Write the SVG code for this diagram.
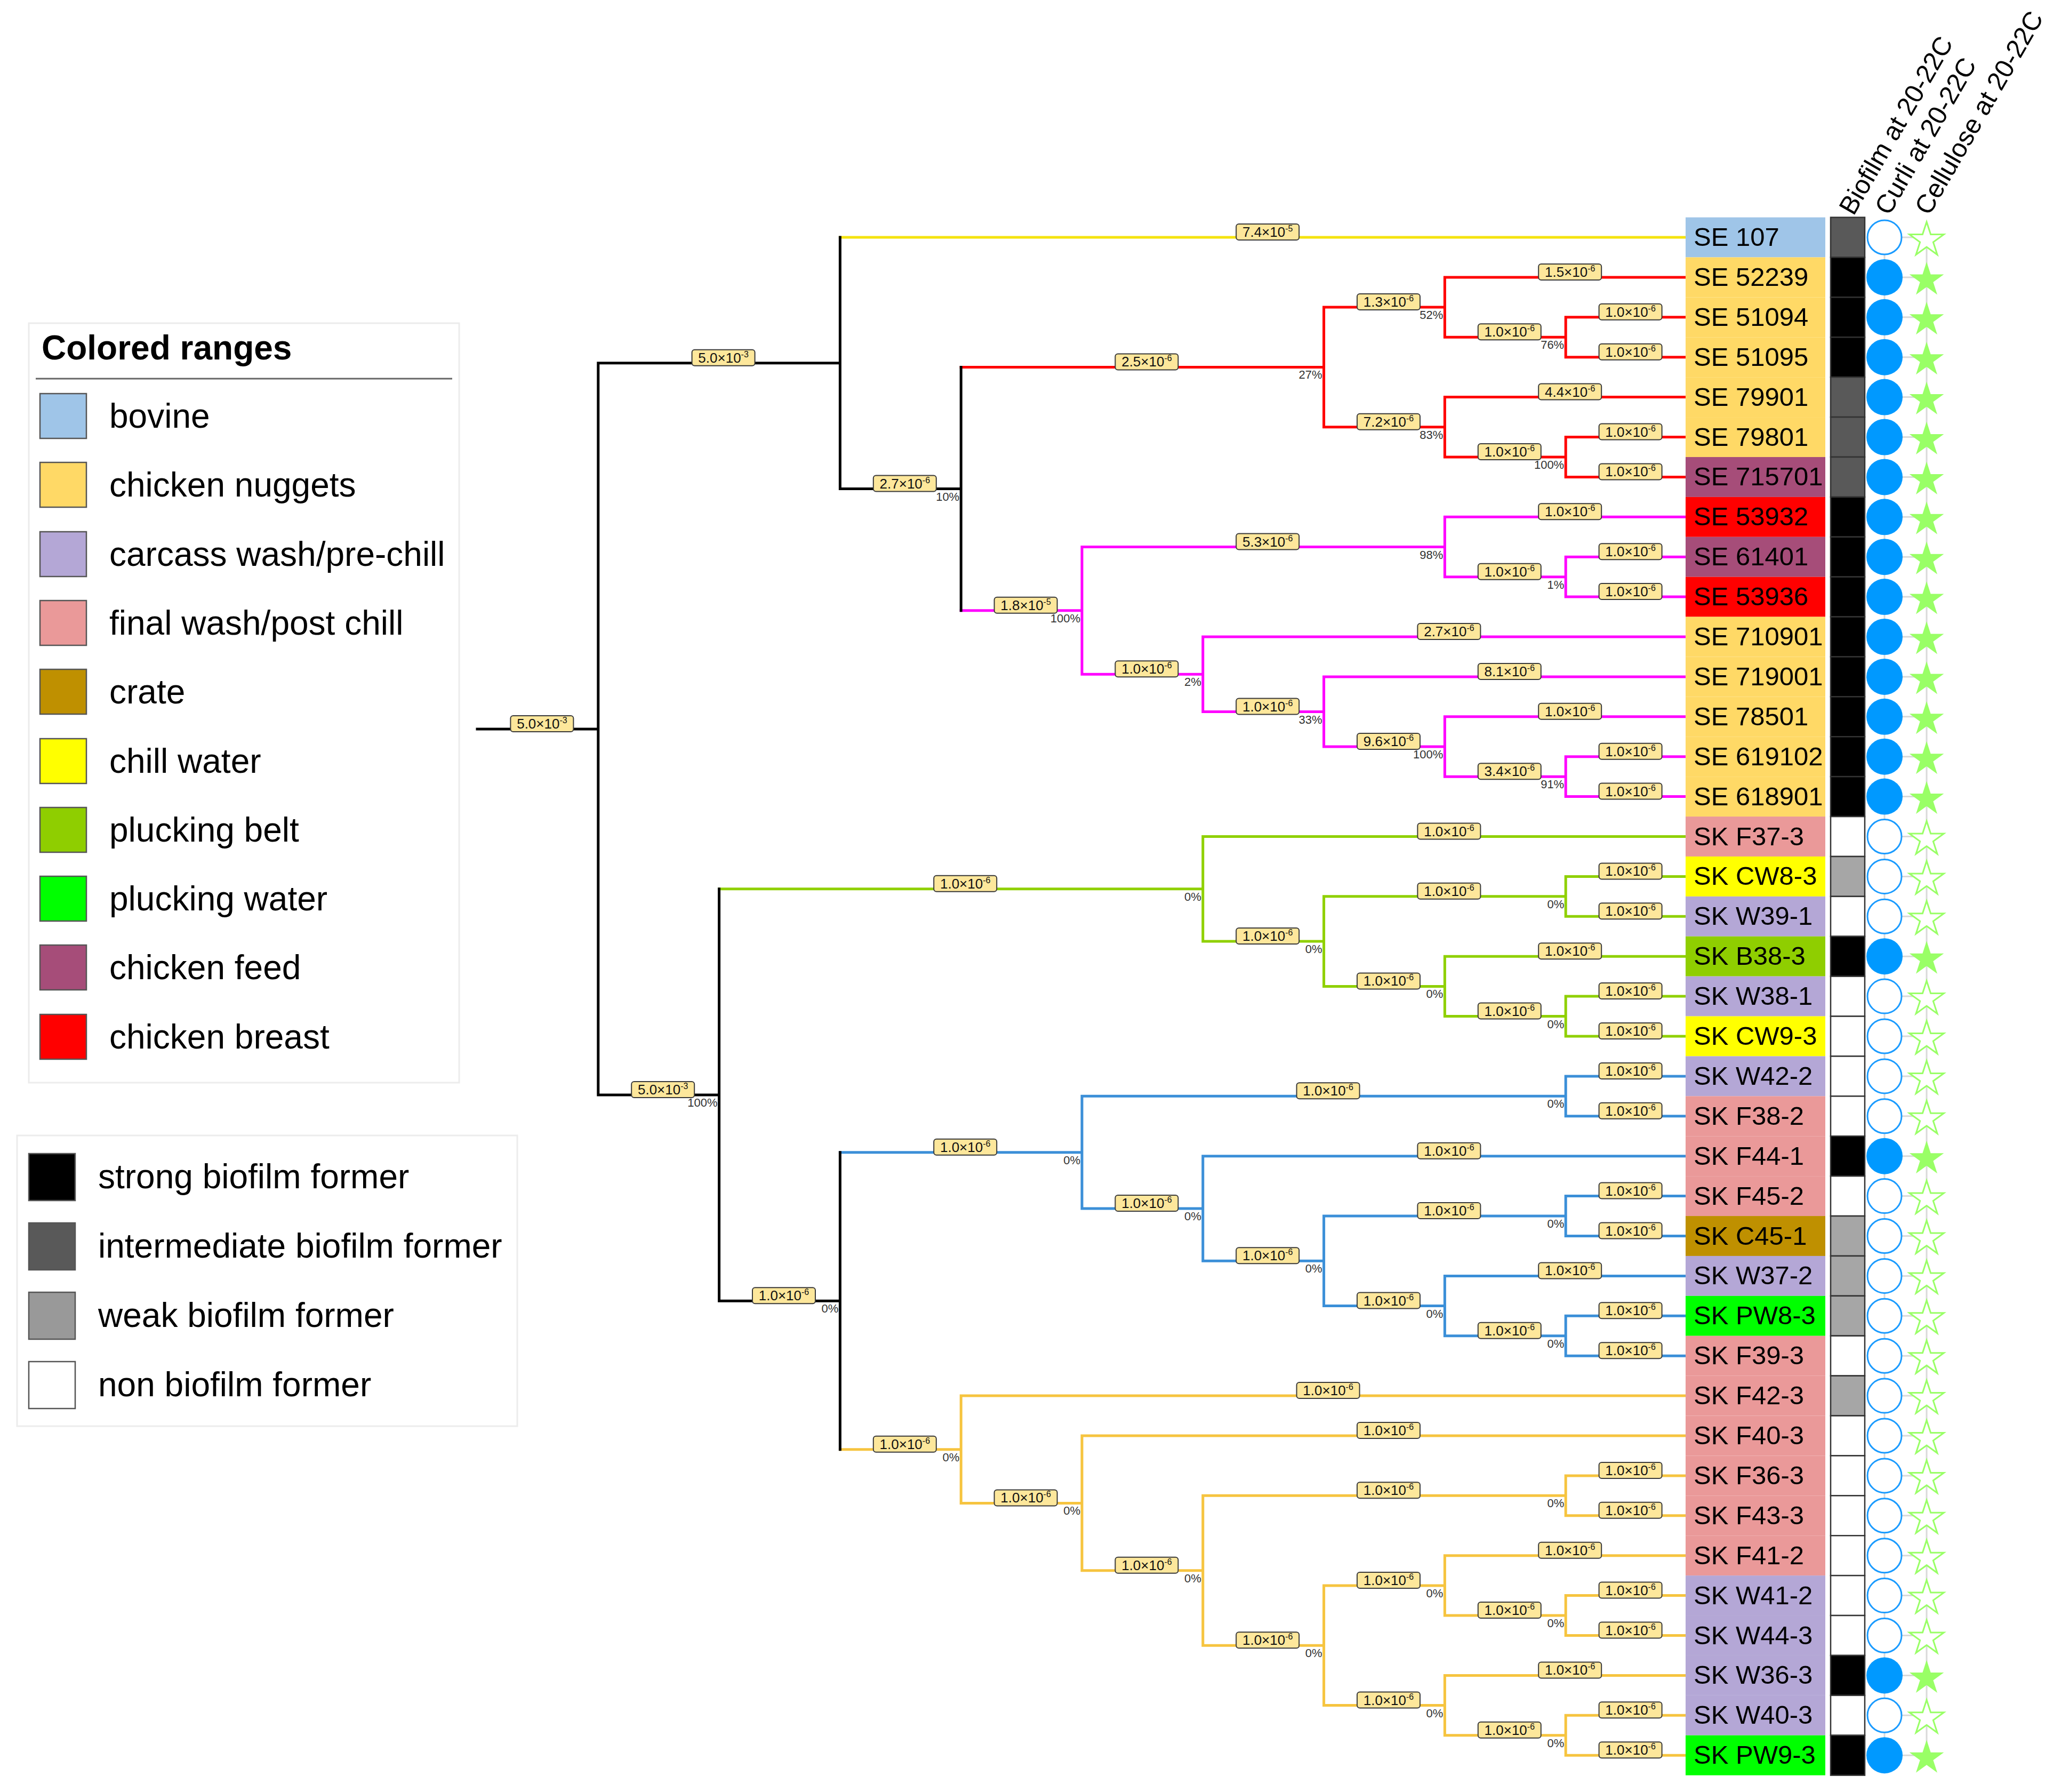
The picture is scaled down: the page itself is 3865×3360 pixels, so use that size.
<svg xmlns="http://www.w3.org/2000/svg" xmlns:xlink="http://www.w3.org/1999/xlink" width="3865" height="3360" viewBox="0 0 3865 3360">
<style>
text{font-family:"Liberation Sans",Arial,sans-serif}
.br{fill:none;stroke-width:5;stroke-linecap:square}
.k{stroke:#000}.y{stroke:#f5e30f}.r{stroke:#ff0000}.m{stroke:#ff00ff}.g{stroke:#8fd000}.b{stroke:#3b8fd8}.o{stroke:#f6c43f}
.bl rect{fill:#fde79b;stroke:#3a3a3a;stroke-width:2}
.bl text{font-size:26px;text-anchor:middle;fill:#111}
.bl tspan{font-size:16px}
.pct{font-size:22px;text-anchor:end;fill:#333}
.lbl{font-size:49px;fill:#000}
.cell{stroke:#333;stroke-width:2.5}
.cf{fill:#0099ff}.co{fill:#fff;stroke:#1a9bff;stroke-width:3}
.sf{fill:#99ff66}.so{fill:#fff;stroke:#99ff66;stroke-width:3}
.bov{fill:#9fc5e8}.nug{fill:#ffd966}.car{fill:#b4a7d6}.fin{fill:#ea9999}.cra{fill:#bf9000}.chw{fill:#ffff00}.pbe{fill:#8fce00}.pwa{fill:#00ff00}.fee{fill:#a64d79}.bre{fill:#ff0000}
.bS{fill:#000}.bI{fill:#595959}.bW{fill:#a6a6a6}.bN{fill:#fff}
.sw{stroke:#555;stroke-width:2.5}
.leg{font-size:64px;fill:#000}
.hdr{font-size:49px;fill:#000}
.grid{fill:none;stroke:#d9d9d9;stroke-width:3}
</style>
<defs>
<polygon id="star" points="0,-34 7.64,-10.52 32.34,-10.51 12.36,4.02 19.98,27.51 0,13 -19.98,27.51 -12.36,4.02 -32.34,-10.51 -7.64,-10.52"/>
</defs>
<rect x="0" y="0" width="3865" height="3360" fill="#fff"/>

<g id="legend-ranges">
<rect x="54" y="606" width="807" height="1424" fill="#fff" stroke="#ececec" stroke-width="3"/>
<text x="78" y="674" class="leg" font-weight="bold">Colored ranges</text>
<line x1="67" y1="710" x2="848" y2="710" stroke="#666" stroke-width="3"/>
<rect class="sw bov" x="75" y="738" width="87" height="84"/><text class="leg" x="205" y="802">bovine</text>
<rect class="sw nug" x="75" y="867" width="87" height="84"/><text class="leg" x="205" y="931">chicken nuggets</text>
<rect class="sw car" x="75" y="997" width="87" height="84"/><text class="leg" x="205" y="1061">carcass wash/pre-chill</text>
<rect class="sw fin" x="75" y="1126" width="87" height="84"/><text class="leg" x="205" y="1190">final wash/post chill</text>
<rect class="sw cra" x="75" y="1255" width="87" height="84"/><text class="leg" x="205" y="1319">crate</text>
<rect class="sw chw" x="75" y="1385" width="87" height="84"/><text class="leg" x="205" y="1449">chill water</text>
<rect class="sw pbe" x="75" y="1514" width="87" height="84"/><text class="leg" x="205" y="1578">plucking belt</text>
<rect class="sw pwa" x="75" y="1643" width="87" height="84"/><text class="leg" x="205" y="1707">plucking water</text>
<rect class="sw fee" x="75" y="1772" width="87" height="84"/><text class="leg" x="205" y="1836">chicken feed</text>
<rect class="sw bre" x="75" y="1902" width="87" height="84"/><text class="leg" x="205" y="1966">chicken breast</text>
</g>

<g id="legend-biofilm">
<rect x="32" y="2129" width="938" height="545" fill="#fff" stroke="#ececec" stroke-width="3"/>
<rect class="sw bS" x="54" y="2163" width="87" height="88"/><text class="leg" x="184" y="2228">strong biofilm former</text>
<rect class="sw bI" x="54" y="2293" width="87" height="88"/><text class="leg" x="184" y="2358">intermediate biofilm former</text>
<rect class="sw" fill="#999" x="54" y="2423" width="87" height="88"/><text class="leg" x="184" y="2488">weak biofilm former</text>
<rect class="sw bN" x="54" y="2553" width="87" height="88"/><text class="leg" x="184" y="2618">non biofilm former</text>
</g>

<g id="headers">
<text class="hdr" transform="translate(3476,406) rotate(-60)">Biofilm at 20-22C</text>
<text class="hdr" transform="translate(3543,406) rotate(-60)">Curli at 20-22C</text>
<text class="hdr" transform="translate(3618,406) rotate(-60)">Cellulose at 20-22C</text>
</g>

<g id="connectors">
<path class="br y" d="M1575.4 445H3163"/>
<path class="br r" d="M1802.2 688.4H2482.6M2482.6 576.1V800.8M2482.6 576.1H2709.4M2482.6 800.8H2709.4M2709.4 519.9V632.25M2709.4 519.9H3163M2709.4 632.25H2936.2M2936.2 594.8V669.7M2936.2 594.8H3163M2936.2 669.7H3163M2709.4 744.6V856.95M2709.4 744.6H3163M2709.4 856.95H2936.2M2936.2 819.5V894.4M2936.2 819.5H3163M2936.2 894.4H3163"/>
<path class="br m" d="M1802.2 1144.8H2029M2029 1025.5V1264.2M2029 1025.5H2709.4M2029 1264.2H2255.8M2709.4 969.3V1081.65M2709.4 969.3H3163M2709.4 1081.65H2936.2M2936.2 1044.2V1119.1M2936.2 1044.2H3163M2936.2 1119.1H3163M2255.8 1194V1334.5M2255.8 1194H3163M2255.8 1334.5H2482.6M2482.6 1268.9V1400M2482.6 1268.9H3163M2482.6 1400H2709.4M2709.4 1343.8V1456.15M2709.4 1343.8H3163M2709.4 1456.15H2936.2M2936.2 1418.7V1493.6M2936.2 1418.7H3163M2936.2 1493.6H3163"/>
<path class="br g" d="M1348.6 1666.8H2255.8M2255.8 1568.5V1765.1M2255.8 1568.5H3163M2255.8 1765.1H2482.6M2482.6 1680.85V1849.4M2482.6 1680.85H2936.2M2936.2 1643.4V1718.3M2936.2 1643.4H3163M2936.2 1718.3H3163M2482.6 1849.4H2709.4M2709.4 1793.2V1905.55M2709.4 1793.2H3163M2709.4 1905.55H2936.2M2936.2 1868.1V1943M2936.2 1868.1H3163M2936.2 1943H3163"/>
<path class="br b" d="M1575.4 2160.7H2029M2029 2055.35V2266M2029 2055.35H2936.2M2936.2 2017.9V2092.8M2936.2 2017.9H3163M2936.2 2092.8H3163M2029 2266H2255.8M2255.8 2167.7V2364.3M2255.8 2167.7H3163M2255.8 2364.3H2482.6M2482.6 2280.05V2448.6M2482.6 2280.05H2936.2M2936.2 2242.6V2317.5M2936.2 2242.6H3163M2936.2 2317.5H3163M2482.6 2448.6H2709.4M2709.4 2392.4V2504.75M2709.4 2392.4H3163M2709.4 2504.75H2936.2M2936.2 2467.3V2542.2M2936.2 2467.3H3163M2936.2 2542.2H3163"/>
<path class="br o" d="M1575.4 2717.7H1802.2M1802.2 2617.1V2818.4M1802.2 2617.1H3163M1802.2 2818.4H2029M2029 2692V2944.8M2029 2692H3163M2029 2944.8H2255.8M2255.8 2804.35V3085.2M2255.8 2804.35H2936.2M2936.2 2766.9V2841.8M2936.2 2766.9H3163M2936.2 2841.8H3163M2255.8 3085.2H2482.6M2482.6 2972.9V3197.6M2482.6 2972.9H2709.4M2709.4 2916.7V3029.05M2709.4 2916.7H3163M2709.4 3029.05H2936.2M2936.2 2991.6V3066.5M2936.2 2991.6H3163M2936.2 3066.5H3163M2482.6 3197.6H2709.4M2709.4 3141.4V3253.75M2709.4 3141.4H3163M2709.4 3253.75H2936.2M2936.2 3216.3V3291.2M2936.2 3216.3H3163M2936.2 3291.2H3163"/>
<path class="br k" d="M895 1366.9H1121.8M1121.8 680.8V2053M1121.8 680.8H1575.4M1121.8 2053H1348.6M1575.4 445V916.6M1575.4 916.6H1802.2M1802.2 688.4V1144.8M1348.6 1666.8V2439.2M1348.6 2439.2H1575.4M1575.4 2160.7V2717.7"/>
</g>

<g id="branch-lengths" class="bl">
<g transform="translate(1016.4,1366.9)"><rect x="-59" y="-25" width="118" height="30" rx="5"/><text y="-1">5.0×10<tspan dy="-10">-3</tspan></text></g>
<g transform="translate(1356.6,680.8)"><rect x="-59" y="-25" width="118" height="30" rx="5"/><text y="-1">5.0×10<tspan dy="-10">-3</tspan></text></g>
<g transform="translate(1243.2,2053)"><rect x="-59" y="-25" width="118" height="30" rx="5"/><text y="-1">5.0×10<tspan dy="-10">-3</tspan></text></g>
<g transform="translate(2377.2,445)"><rect x="-59" y="-25" width="118" height="30" rx="5"/><text y="-1">7.4×10<tspan dy="-10">-5</tspan></text></g>
<g transform="translate(1696.8,916.6)"><rect x="-59" y="-25" width="118" height="30" rx="5"/><text y="-1">2.7×10<tspan dy="-10">-6</tspan></text></g>
<g transform="translate(2150.4,688.4)"><rect x="-59" y="-25" width="118" height="30" rx="5"/><text y="-1">2.5×10<tspan dy="-10">-6</tspan></text></g>
<g transform="translate(2604,576.1)"><rect x="-59" y="-25" width="118" height="30" rx="5"/><text y="-1">1.3×10<tspan dy="-10">-6</tspan></text></g>
<g transform="translate(2944.2,519.9)"><rect x="-59" y="-25" width="118" height="30" rx="5"/><text y="-1">1.5×10<tspan dy="-10">-6</tspan></text></g>
<g transform="translate(2830.8,632.25)"><rect x="-59" y="-25" width="118" height="30" rx="5"/><text y="-1">1.0×10<tspan dy="-10">-6</tspan></text></g>
<g transform="translate(3057.6,594.8)"><rect x="-59" y="-25" width="118" height="30" rx="5"/><text y="-1">1.0×10<tspan dy="-10">-6</tspan></text></g>
<g transform="translate(3057.6,669.7)"><rect x="-59" y="-25" width="118" height="30" rx="5"/><text y="-1">1.0×10<tspan dy="-10">-6</tspan></text></g>
<g transform="translate(2604,800.8)"><rect x="-59" y="-25" width="118" height="30" rx="5"/><text y="-1">7.2×10<tspan dy="-10">-6</tspan></text></g>
<g transform="translate(2944.2,744.6)"><rect x="-59" y="-25" width="118" height="30" rx="5"/><text y="-1">4.4×10<tspan dy="-10">-6</tspan></text></g>
<g transform="translate(2830.8,856.95)"><rect x="-59" y="-25" width="118" height="30" rx="5"/><text y="-1">1.0×10<tspan dy="-10">-6</tspan></text></g>
<g transform="translate(3057.6,819.5)"><rect x="-59" y="-25" width="118" height="30" rx="5"/><text y="-1">1.0×10<tspan dy="-10">-6</tspan></text></g>
<g transform="translate(3057.6,894.4)"><rect x="-59" y="-25" width="118" height="30" rx="5"/><text y="-1">1.0×10<tspan dy="-10">-6</tspan></text></g>
<g transform="translate(1923.6,1144.8)"><rect x="-59" y="-25" width="118" height="30" rx="5"/><text y="-1">1.8×10<tspan dy="-10">-5</tspan></text></g>
<g transform="translate(2377.2,1025.5)"><rect x="-59" y="-25" width="118" height="30" rx="5"/><text y="-1">5.3×10<tspan dy="-10">-6</tspan></text></g>
<g transform="translate(2944.2,969.3)"><rect x="-59" y="-25" width="118" height="30" rx="5"/><text y="-1">1.0×10<tspan dy="-10">-6</tspan></text></g>
<g transform="translate(2830.8,1081.65)"><rect x="-59" y="-25" width="118" height="30" rx="5"/><text y="-1">1.0×10<tspan dy="-10">-6</tspan></text></g>
<g transform="translate(3057.6,1044.2)"><rect x="-59" y="-25" width="118" height="30" rx="5"/><text y="-1">1.0×10<tspan dy="-10">-6</tspan></text></g>
<g transform="translate(3057.6,1119.1)"><rect x="-59" y="-25" width="118" height="30" rx="5"/><text y="-1">1.0×10<tspan dy="-10">-6</tspan></text></g>
<g transform="translate(2150.4,1264.2)"><rect x="-59" y="-25" width="118" height="30" rx="5"/><text y="-1">1.0×10<tspan dy="-10">-6</tspan></text></g>
<g transform="translate(2717.4,1194)"><rect x="-59" y="-25" width="118" height="30" rx="5"/><text y="-1">2.7×10<tspan dy="-10">-6</tspan></text></g>
<g transform="translate(2377.2,1334.5)"><rect x="-59" y="-25" width="118" height="30" rx="5"/><text y="-1">1.0×10<tspan dy="-10">-6</tspan></text></g>
<g transform="translate(2830.8,1268.9)"><rect x="-59" y="-25" width="118" height="30" rx="5"/><text y="-1">8.1×10<tspan dy="-10">-6</tspan></text></g>
<g transform="translate(2604,1400)"><rect x="-59" y="-25" width="118" height="30" rx="5"/><text y="-1">9.6×10<tspan dy="-10">-6</tspan></text></g>
<g transform="translate(2944.2,1343.8)"><rect x="-59" y="-25" width="118" height="30" rx="5"/><text y="-1">1.0×10<tspan dy="-10">-6</tspan></text></g>
<g transform="translate(2830.8,1456.15)"><rect x="-59" y="-25" width="118" height="30" rx="5"/><text y="-1">3.4×10<tspan dy="-10">-6</tspan></text></g>
<g transform="translate(3057.6,1418.7)"><rect x="-59" y="-25" width="118" height="30" rx="5"/><text y="-1">1.0×10<tspan dy="-10">-6</tspan></text></g>
<g transform="translate(3057.6,1493.6)"><rect x="-59" y="-25" width="118" height="30" rx="5"/><text y="-1">1.0×10<tspan dy="-10">-6</tspan></text></g>
<g transform="translate(1810.2,1666.8)"><rect x="-59" y="-25" width="118" height="30" rx="5"/><text y="-1">1.0×10<tspan dy="-10">-6</tspan></text></g>
<g transform="translate(2717.4,1568.5)"><rect x="-59" y="-25" width="118" height="30" rx="5"/><text y="-1">1.0×10<tspan dy="-10">-6</tspan></text></g>
<g transform="translate(2377.2,1765.1)"><rect x="-59" y="-25" width="118" height="30" rx="5"/><text y="-1">1.0×10<tspan dy="-10">-6</tspan></text></g>
<g transform="translate(2717.4,1680.85)"><rect x="-59" y="-25" width="118" height="30" rx="5"/><text y="-1">1.0×10<tspan dy="-10">-6</tspan></text></g>
<g transform="translate(3057.6,1643.4)"><rect x="-59" y="-25" width="118" height="30" rx="5"/><text y="-1">1.0×10<tspan dy="-10">-6</tspan></text></g>
<g transform="translate(3057.6,1718.3)"><rect x="-59" y="-25" width="118" height="30" rx="5"/><text y="-1">1.0×10<tspan dy="-10">-6</tspan></text></g>
<g transform="translate(2604,1849.4)"><rect x="-59" y="-25" width="118" height="30" rx="5"/><text y="-1">1.0×10<tspan dy="-10">-6</tspan></text></g>
<g transform="translate(2944.2,1793.2)"><rect x="-59" y="-25" width="118" height="30" rx="5"/><text y="-1">1.0×10<tspan dy="-10">-6</tspan></text></g>
<g transform="translate(2830.8,1905.55)"><rect x="-59" y="-25" width="118" height="30" rx="5"/><text y="-1">1.0×10<tspan dy="-10">-6</tspan></text></g>
<g transform="translate(3057.6,1868.1)"><rect x="-59" y="-25" width="118" height="30" rx="5"/><text y="-1">1.0×10<tspan dy="-10">-6</tspan></text></g>
<g transform="translate(3057.6,1943)"><rect x="-59" y="-25" width="118" height="30" rx="5"/><text y="-1">1.0×10<tspan dy="-10">-6</tspan></text></g>
<g transform="translate(1470,2439.2)"><rect x="-59" y="-25" width="118" height="30" rx="5"/><text y="-1">1.0×10<tspan dy="-10">-6</tspan></text></g>
<g transform="translate(1810.2,2160.7)"><rect x="-59" y="-25" width="118" height="30" rx="5"/><text y="-1">1.0×10<tspan dy="-10">-6</tspan></text></g>
<g transform="translate(2490.6,2055.35)"><rect x="-59" y="-25" width="118" height="30" rx="5"/><text y="-1">1.0×10<tspan dy="-10">-6</tspan></text></g>
<g transform="translate(3057.6,2017.9)"><rect x="-59" y="-25" width="118" height="30" rx="5"/><text y="-1">1.0×10<tspan dy="-10">-6</tspan></text></g>
<g transform="translate(3057.6,2092.8)"><rect x="-59" y="-25" width="118" height="30" rx="5"/><text y="-1">1.0×10<tspan dy="-10">-6</tspan></text></g>
<g transform="translate(2150.4,2266)"><rect x="-59" y="-25" width="118" height="30" rx="5"/><text y="-1">1.0×10<tspan dy="-10">-6</tspan></text></g>
<g transform="translate(2717.4,2167.7)"><rect x="-59" y="-25" width="118" height="30" rx="5"/><text y="-1">1.0×10<tspan dy="-10">-6</tspan></text></g>
<g transform="translate(2377.2,2364.3)"><rect x="-59" y="-25" width="118" height="30" rx="5"/><text y="-1">1.0×10<tspan dy="-10">-6</tspan></text></g>
<g transform="translate(2717.4,2280.05)"><rect x="-59" y="-25" width="118" height="30" rx="5"/><text y="-1">1.0×10<tspan dy="-10">-6</tspan></text></g>
<g transform="translate(3057.6,2242.6)"><rect x="-59" y="-25" width="118" height="30" rx="5"/><text y="-1">1.0×10<tspan dy="-10">-6</tspan></text></g>
<g transform="translate(3057.6,2317.5)"><rect x="-59" y="-25" width="118" height="30" rx="5"/><text y="-1">1.0×10<tspan dy="-10">-6</tspan></text></g>
<g transform="translate(2604,2448.6)"><rect x="-59" y="-25" width="118" height="30" rx="5"/><text y="-1">1.0×10<tspan dy="-10">-6</tspan></text></g>
<g transform="translate(2944.2,2392.4)"><rect x="-59" y="-25" width="118" height="30" rx="5"/><text y="-1">1.0×10<tspan dy="-10">-6</tspan></text></g>
<g transform="translate(2830.8,2504.75)"><rect x="-59" y="-25" width="118" height="30" rx="5"/><text y="-1">1.0×10<tspan dy="-10">-6</tspan></text></g>
<g transform="translate(3057.6,2467.3)"><rect x="-59" y="-25" width="118" height="30" rx="5"/><text y="-1">1.0×10<tspan dy="-10">-6</tspan></text></g>
<g transform="translate(3057.6,2542.2)"><rect x="-59" y="-25" width="118" height="30" rx="5"/><text y="-1">1.0×10<tspan dy="-10">-6</tspan></text></g>
<g transform="translate(1696.8,2717.7)"><rect x="-59" y="-25" width="118" height="30" rx="5"/><text y="-1">1.0×10<tspan dy="-10">-6</tspan></text></g>
<g transform="translate(2490.6,2617.1)"><rect x="-59" y="-25" width="118" height="30" rx="5"/><text y="-1">1.0×10<tspan dy="-10">-6</tspan></text></g>
<g transform="translate(1923.6,2818.4)"><rect x="-59" y="-25" width="118" height="30" rx="5"/><text y="-1">1.0×10<tspan dy="-10">-6</tspan></text></g>
<g transform="translate(2604,2692)"><rect x="-59" y="-25" width="118" height="30" rx="5"/><text y="-1">1.0×10<tspan dy="-10">-6</tspan></text></g>
<g transform="translate(2150.4,2944.8)"><rect x="-59" y="-25" width="118" height="30" rx="5"/><text y="-1">1.0×10<tspan dy="-10">-6</tspan></text></g>
<g transform="translate(2604,2804.35)"><rect x="-59" y="-25" width="118" height="30" rx="5"/><text y="-1">1.0×10<tspan dy="-10">-6</tspan></text></g>
<g transform="translate(3057.6,2766.9)"><rect x="-59" y="-25" width="118" height="30" rx="5"/><text y="-1">1.0×10<tspan dy="-10">-6</tspan></text></g>
<g transform="translate(3057.6,2841.8)"><rect x="-59" y="-25" width="118" height="30" rx="5"/><text y="-1">1.0×10<tspan dy="-10">-6</tspan></text></g>
<g transform="translate(2377.2,3085.2)"><rect x="-59" y="-25" width="118" height="30" rx="5"/><text y="-1">1.0×10<tspan dy="-10">-6</tspan></text></g>
<g transform="translate(2604,2972.9)"><rect x="-59" y="-25" width="118" height="30" rx="5"/><text y="-1">1.0×10<tspan dy="-10">-6</tspan></text></g>
<g transform="translate(2944.2,2916.7)"><rect x="-59" y="-25" width="118" height="30" rx="5"/><text y="-1">1.0×10<tspan dy="-10">-6</tspan></text></g>
<g transform="translate(2830.8,3029.05)"><rect x="-59" y="-25" width="118" height="30" rx="5"/><text y="-1">1.0×10<tspan dy="-10">-6</tspan></text></g>
<g transform="translate(3057.6,2991.6)"><rect x="-59" y="-25" width="118" height="30" rx="5"/><text y="-1">1.0×10<tspan dy="-10">-6</tspan></text></g>
<g transform="translate(3057.6,3066.5)"><rect x="-59" y="-25" width="118" height="30" rx="5"/><text y="-1">1.0×10<tspan dy="-10">-6</tspan></text></g>
<g transform="translate(2604,3197.6)"><rect x="-59" y="-25" width="118" height="30" rx="5"/><text y="-1">1.0×10<tspan dy="-10">-6</tspan></text></g>
<g transform="translate(2944.2,3141.4)"><rect x="-59" y="-25" width="118" height="30" rx="5"/><text y="-1">1.0×10<tspan dy="-10">-6</tspan></text></g>
<g transform="translate(2830.8,3253.75)"><rect x="-59" y="-25" width="118" height="30" rx="5"/><text y="-1">1.0×10<tspan dy="-10">-6</tspan></text></g>
<g transform="translate(3057.6,3216.3)"><rect x="-59" y="-25" width="118" height="30" rx="5"/><text y="-1">1.0×10<tspan dy="-10">-6</tspan></text></g>
<g transform="translate(3057.6,3291.2)"><rect x="-59" y="-25" width="118" height="30" rx="5"/><text y="-1">1.0×10<tspan dy="-10">-6</tspan></text></g>
</g>

<g id="support-values" class="pct">
<text x="1345.6" y="2075">100%</text>
<text x="1799.2" y="938.6">10%</text>
<text x="2479.6" y="710.4">27%</text>
<text x="2706.4" y="598.1">52%</text>
<text x="2933.2" y="654.25">76%</text>
<text x="2706.4" y="822.8">83%</text>
<text x="2933.2" y="878.95">100%</text>
<text x="2026" y="1166.8">100%</text>
<text x="2706.4" y="1047.5">98%</text>
<text x="2933.2" y="1103.65">1%</text>
<text x="2252.8" y="1286.2">2%</text>
<text x="2479.6" y="1356.5">33%</text>
<text x="2706.4" y="1422">100%</text>
<text x="2933.2" y="1478.15">91%</text>
<text x="2252.8" y="1688.8">0%</text>
<text x="2479.6" y="1787.1">0%</text>
<text x="2933.2" y="1702.85">0%</text>
<text x="2706.4" y="1871.4">0%</text>
<text x="2933.2" y="1927.55">0%</text>
<text x="1572.4" y="2461.2">0%</text>
<text x="2026" y="2182.7">0%</text>
<text x="2933.2" y="2077.35">0%</text>
<text x="2252.8" y="2288">0%</text>
<text x="2479.6" y="2386.3">0%</text>
<text x="2933.2" y="2302.05">0%</text>
<text x="2706.4" y="2470.6">0%</text>
<text x="2933.2" y="2526.75">0%</text>
<text x="1799.2" y="2739.7">0%</text>
<text x="2026" y="2840.4">0%</text>
<text x="2252.8" y="2966.8">0%</text>
<text x="2933.2" y="2826.35">0%</text>
<text x="2479.6" y="3107.2">0%</text>
<text x="2706.4" y="2994.9">0%</text>
<text x="2933.2" y="3051.05">0%</text>
<text x="2706.4" y="3219.6">0%</text>
<text x="2933.2" y="3275.75">0%</text>
</g>

<g id="grid">
<path class="grid" d="M3534 445V3291.2M3613 445V3291.2"/>
</g>

<g id="leaves">
<g id="leaf-SE-107" transform="translate(0,445)"><rect class="bov" x="3161" y="-37.45" width="262" height="74.9"/><text class="lbl" x="3176" y="16">SE 107</text><rect class="cell bI" x="3433" y="-37.45" width="64" height="74.9"/><path class="grid" d="M3534 0H3613"/><circle class="co" cx="3534" cy="0" r="32"/><use xlink:href="#star" class="so" transform="translate(3613,5)"/></g>
<g id="leaf-SE-52239" transform="translate(0,519.9)"><rect class="nug" x="3161" y="-37.45" width="262" height="74.9"/><text class="lbl" x="3176" y="16">SE 52239</text><rect class="cell bS" x="3433" y="-37.45" width="64" height="74.9"/><path class="grid" d="M3534 0H3613"/><circle class="cf" cx="3534" cy="0" r="34"/><use xlink:href="#star" class="sf" transform="translate(3613,5)"/></g>
<g id="leaf-SE-51094" transform="translate(0,594.8)"><rect class="nug" x="3161" y="-37.45" width="262" height="74.9"/><text class="lbl" x="3176" y="16">SE 51094</text><rect class="cell bS" x="3433" y="-37.45" width="64" height="74.9"/><path class="grid" d="M3534 0H3613"/><circle class="cf" cx="3534" cy="0" r="34"/><use xlink:href="#star" class="sf" transform="translate(3613,5)"/></g>
<g id="leaf-SE-51095" transform="translate(0,669.7)"><rect class="nug" x="3161" y="-37.45" width="262" height="74.9"/><text class="lbl" x="3176" y="16">SE 51095</text><rect class="cell bS" x="3433" y="-37.45" width="64" height="74.9"/><path class="grid" d="M3534 0H3613"/><circle class="cf" cx="3534" cy="0" r="34"/><use xlink:href="#star" class="sf" transform="translate(3613,5)"/></g>
<g id="leaf-SE-79901" transform="translate(0,744.6)"><rect class="nug" x="3161" y="-37.45" width="262" height="74.9"/><text class="lbl" x="3176" y="16">SE 79901</text><rect class="cell bI" x="3433" y="-37.45" width="64" height="74.9"/><path class="grid" d="M3534 0H3613"/><circle class="cf" cx="3534" cy="0" r="34"/><use xlink:href="#star" class="sf" transform="translate(3613,5)"/></g>
<g id="leaf-SE-79801" transform="translate(0,819.5)"><rect class="nug" x="3161" y="-37.45" width="262" height="74.9"/><text class="lbl" x="3176" y="16">SE 79801</text><rect class="cell bI" x="3433" y="-37.45" width="64" height="74.9"/><path class="grid" d="M3534 0H3613"/><circle class="cf" cx="3534" cy="0" r="34"/><use xlink:href="#star" class="sf" transform="translate(3613,5)"/></g>
<g id="leaf-SE-715701" transform="translate(0,894.4)"><rect class="fee" x="3161" y="-37.45" width="262" height="74.9"/><text class="lbl" x="3176" y="16">SE 715701</text><rect class="cell bI" x="3433" y="-37.45" width="64" height="74.9"/><path class="grid" d="M3534 0H3613"/><circle class="cf" cx="3534" cy="0" r="34"/><use xlink:href="#star" class="sf" transform="translate(3613,5)"/></g>
<g id="leaf-SE-53932" transform="translate(0,969.3)"><rect class="bre" x="3161" y="-37.45" width="262" height="74.9"/><text class="lbl" x="3176" y="16">SE 53932</text><rect class="cell bS" x="3433" y="-37.45" width="64" height="74.9"/><path class="grid" d="M3534 0H3613"/><circle class="cf" cx="3534" cy="0" r="34"/><use xlink:href="#star" class="sf" transform="translate(3613,5)"/></g>
<g id="leaf-SE-61401" transform="translate(0,1044.2)"><rect class="fee" x="3161" y="-37.45" width="262" height="74.9"/><text class="lbl" x="3176" y="16">SE 61401</text><rect class="cell bS" x="3433" y="-37.45" width="64" height="74.9"/><path class="grid" d="M3534 0H3613"/><circle class="cf" cx="3534" cy="0" r="34"/><use xlink:href="#star" class="sf" transform="translate(3613,5)"/></g>
<g id="leaf-SE-53936" transform="translate(0,1119.1)"><rect class="bre" x="3161" y="-37.45" width="262" height="74.9"/><text class="lbl" x="3176" y="16">SE 53936</text><rect class="cell bS" x="3433" y="-37.45" width="64" height="74.9"/><path class="grid" d="M3534 0H3613"/><circle class="cf" cx="3534" cy="0" r="34"/><use xlink:href="#star" class="sf" transform="translate(3613,5)"/></g>
<g id="leaf-SE-710901" transform="translate(0,1194)"><rect class="nug" x="3161" y="-37.45" width="262" height="74.9"/><text class="lbl" x="3176" y="16">SE 710901</text><rect class="cell bS" x="3433" y="-37.45" width="64" height="74.9"/><path class="grid" d="M3534 0H3613"/><circle class="cf" cx="3534" cy="0" r="34"/><use xlink:href="#star" class="sf" transform="translate(3613,5)"/></g>
<g id="leaf-SE-719001" transform="translate(0,1268.9)"><rect class="nug" x="3161" y="-37.45" width="262" height="74.9"/><text class="lbl" x="3176" y="16">SE 719001</text><rect class="cell bS" x="3433" y="-37.45" width="64" height="74.9"/><path class="grid" d="M3534 0H3613"/><circle class="cf" cx="3534" cy="0" r="34"/><use xlink:href="#star" class="sf" transform="translate(3613,5)"/></g>
<g id="leaf-SE-78501" transform="translate(0,1343.8)"><rect class="nug" x="3161" y="-37.45" width="262" height="74.9"/><text class="lbl" x="3176" y="16">SE 78501</text><rect class="cell bS" x="3433" y="-37.45" width="64" height="74.9"/><path class="grid" d="M3534 0H3613"/><circle class="cf" cx="3534" cy="0" r="34"/><use xlink:href="#star" class="sf" transform="translate(3613,5)"/></g>
<g id="leaf-SE-619102" transform="translate(0,1418.7)"><rect class="nug" x="3161" y="-37.45" width="262" height="74.9"/><text class="lbl" x="3176" y="16">SE 619102</text><rect class="cell bS" x="3433" y="-37.45" width="64" height="74.9"/><path class="grid" d="M3534 0H3613"/><circle class="cf" cx="3534" cy="0" r="34"/><use xlink:href="#star" class="sf" transform="translate(3613,5)"/></g>
<g id="leaf-SE-618901" transform="translate(0,1493.6)"><rect class="nug" x="3161" y="-37.45" width="262" height="74.9"/><text class="lbl" x="3176" y="16">SE 618901</text><rect class="cell bS" x="3433" y="-37.45" width="64" height="74.9"/><path class="grid" d="M3534 0H3613"/><circle class="cf" cx="3534" cy="0" r="34"/><use xlink:href="#star" class="sf" transform="translate(3613,5)"/></g>
<g id="leaf-SK-F37-3" transform="translate(0,1568.5)"><rect class="fin" x="3161" y="-37.45" width="262" height="74.9"/><text class="lbl" x="3176" y="16">SK F37-3</text><rect class="cell bN" x="3433" y="-37.45" width="64" height="74.9"/><path class="grid" d="M3534 0H3613"/><circle class="co" cx="3534" cy="0" r="32"/><use xlink:href="#star" class="so" transform="translate(3613,5)"/></g>
<g id="leaf-SK-CW8-3" transform="translate(0,1643.4)"><rect class="chw" x="3161" y="-37.45" width="262" height="74.9"/><text class="lbl" x="3176" y="16">SK CW8-3</text><rect class="cell bW" x="3433" y="-37.45" width="64" height="74.9"/><path class="grid" d="M3534 0H3613"/><circle class="co" cx="3534" cy="0" r="32"/><use xlink:href="#star" class="so" transform="translate(3613,5)"/></g>
<g id="leaf-SK-W39-1" transform="translate(0,1718.3)"><rect class="car" x="3161" y="-37.45" width="262" height="74.9"/><text class="lbl" x="3176" y="16">SK W39-1</text><rect class="cell bN" x="3433" y="-37.45" width="64" height="74.9"/><path class="grid" d="M3534 0H3613"/><circle class="co" cx="3534" cy="0" r="32"/><use xlink:href="#star" class="so" transform="translate(3613,5)"/></g>
<g id="leaf-SK-B38-3" transform="translate(0,1793.2)"><rect class="pbe" x="3161" y="-37.45" width="262" height="74.9"/><text class="lbl" x="3176" y="16">SK B38-3</text><rect class="cell bS" x="3433" y="-37.45" width="64" height="74.9"/><path class="grid" d="M3534 0H3613"/><circle class="cf" cx="3534" cy="0" r="34"/><use xlink:href="#star" class="sf" transform="translate(3613,5)"/></g>
<g id="leaf-SK-W38-1" transform="translate(0,1868.1)"><rect class="car" x="3161" y="-37.45" width="262" height="74.9"/><text class="lbl" x="3176" y="16">SK W38-1</text><rect class="cell bN" x="3433" y="-37.45" width="64" height="74.9"/><path class="grid" d="M3534 0H3613"/><circle class="co" cx="3534" cy="0" r="32"/><use xlink:href="#star" class="so" transform="translate(3613,5)"/></g>
<g id="leaf-SK-CW9-3" transform="translate(0,1943)"><rect class="chw" x="3161" y="-37.45" width="262" height="74.9"/><text class="lbl" x="3176" y="16">SK CW9-3</text><rect class="cell bN" x="3433" y="-37.45" width="64" height="74.9"/><path class="grid" d="M3534 0H3613"/><circle class="co" cx="3534" cy="0" r="32"/><use xlink:href="#star" class="so" transform="translate(3613,5)"/></g>
<g id="leaf-SK-W42-2" transform="translate(0,2017.9)"><rect class="car" x="3161" y="-37.45" width="262" height="74.9"/><text class="lbl" x="3176" y="16">SK W42-2</text><rect class="cell bN" x="3433" y="-37.45" width="64" height="74.9"/><path class="grid" d="M3534 0H3613"/><circle class="co" cx="3534" cy="0" r="32"/><use xlink:href="#star" class="so" transform="translate(3613,5)"/></g>
<g id="leaf-SK-F38-2" transform="translate(0,2092.8)"><rect class="fin" x="3161" y="-37.45" width="262" height="74.9"/><text class="lbl" x="3176" y="16">SK F38-2</text><rect class="cell bN" x="3433" y="-37.45" width="64" height="74.9"/><path class="grid" d="M3534 0H3613"/><circle class="co" cx="3534" cy="0" r="32"/><use xlink:href="#star" class="so" transform="translate(3613,5)"/></g>
<g id="leaf-SK-F44-1" transform="translate(0,2167.7)"><rect class="fin" x="3161" y="-37.45" width="262" height="74.9"/><text class="lbl" x="3176" y="16">SK F44-1</text><rect class="cell bS" x="3433" y="-37.45" width="64" height="74.9"/><path class="grid" d="M3534 0H3613"/><circle class="cf" cx="3534" cy="0" r="34"/><use xlink:href="#star" class="sf" transform="translate(3613,5)"/></g>
<g id="leaf-SK-F45-2" transform="translate(0,2242.6)"><rect class="fin" x="3161" y="-37.45" width="262" height="74.9"/><text class="lbl" x="3176" y="16">SK F45-2</text><rect class="cell bN" x="3433" y="-37.45" width="64" height="74.9"/><path class="grid" d="M3534 0H3613"/><circle class="co" cx="3534" cy="0" r="32"/><use xlink:href="#star" class="so" transform="translate(3613,5)"/></g>
<g id="leaf-SK-C45-1" transform="translate(0,2317.5)"><rect class="cra" x="3161" y="-37.45" width="262" height="74.9"/><text class="lbl" x="3176" y="16">SK C45-1</text><rect class="cell bW" x="3433" y="-37.45" width="64" height="74.9"/><path class="grid" d="M3534 0H3613"/><circle class="co" cx="3534" cy="0" r="32"/><use xlink:href="#star" class="so" transform="translate(3613,5)"/></g>
<g id="leaf-SK-W37-2" transform="translate(0,2392.4)"><rect class="car" x="3161" y="-37.45" width="262" height="74.9"/><text class="lbl" x="3176" y="16">SK W37-2</text><rect class="cell bW" x="3433" y="-37.45" width="64" height="74.9"/><path class="grid" d="M3534 0H3613"/><circle class="co" cx="3534" cy="0" r="32"/><use xlink:href="#star" class="so" transform="translate(3613,5)"/></g>
<g id="leaf-SK-PW8-3" transform="translate(0,2467.3)"><rect class="pwa" x="3161" y="-37.45" width="262" height="74.9"/><text class="lbl" x="3176" y="16">SK PW8-3</text><rect class="cell bW" x="3433" y="-37.45" width="64" height="74.9"/><path class="grid" d="M3534 0H3613"/><circle class="co" cx="3534" cy="0" r="32"/><use xlink:href="#star" class="so" transform="translate(3613,5)"/></g>
<g id="leaf-SK-F39-3" transform="translate(0,2542.2)"><rect class="fin" x="3161" y="-37.45" width="262" height="74.9"/><text class="lbl" x="3176" y="16">SK F39-3</text><rect class="cell bN" x="3433" y="-37.45" width="64" height="74.9"/><path class="grid" d="M3534 0H3613"/><circle class="co" cx="3534" cy="0" r="32"/><use xlink:href="#star" class="so" transform="translate(3613,5)"/></g>
<g id="leaf-SK-F42-3" transform="translate(0,2617.1)"><rect class="fin" x="3161" y="-37.45" width="262" height="74.9"/><text class="lbl" x="3176" y="16">SK F42-3</text><rect class="cell bW" x="3433" y="-37.45" width="64" height="74.9"/><path class="grid" d="M3534 0H3613"/><circle class="co" cx="3534" cy="0" r="32"/><use xlink:href="#star" class="so" transform="translate(3613,5)"/></g>
<g id="leaf-SK-F40-3" transform="translate(0,2692)"><rect class="fin" x="3161" y="-37.45" width="262" height="74.9"/><text class="lbl" x="3176" y="16">SK F40-3</text><rect class="cell bN" x="3433" y="-37.45" width="64" height="74.9"/><path class="grid" d="M3534 0H3613"/><circle class="co" cx="3534" cy="0" r="32"/><use xlink:href="#star" class="so" transform="translate(3613,5)"/></g>
<g id="leaf-SK-F36-3" transform="translate(0,2766.9)"><rect class="fin" x="3161" y="-37.45" width="262" height="74.9"/><text class="lbl" x="3176" y="16">SK F36-3</text><rect class="cell bN" x="3433" y="-37.45" width="64" height="74.9"/><path class="grid" d="M3534 0H3613"/><circle class="co" cx="3534" cy="0" r="32"/><use xlink:href="#star" class="so" transform="translate(3613,5)"/></g>
<g id="leaf-SK-F43-3" transform="translate(0,2841.8)"><rect class="fin" x="3161" y="-37.45" width="262" height="74.9"/><text class="lbl" x="3176" y="16">SK F43-3</text><rect class="cell bN" x="3433" y="-37.45" width="64" height="74.9"/><path class="grid" d="M3534 0H3613"/><circle class="co" cx="3534" cy="0" r="32"/><use xlink:href="#star" class="so" transform="translate(3613,5)"/></g>
<g id="leaf-SK-F41-2" transform="translate(0,2916.7)"><rect class="fin" x="3161" y="-37.45" width="262" height="74.9"/><text class="lbl" x="3176" y="16">SK F41-2</text><rect class="cell bN" x="3433" y="-37.45" width="64" height="74.9"/><path class="grid" d="M3534 0H3613"/><circle class="co" cx="3534" cy="0" r="32"/><use xlink:href="#star" class="so" transform="translate(3613,5)"/></g>
<g id="leaf-SK-W41-2" transform="translate(0,2991.6)"><rect class="car" x="3161" y="-37.45" width="262" height="74.9"/><text class="lbl" x="3176" y="16">SK W41-2</text><rect class="cell bN" x="3433" y="-37.45" width="64" height="74.9"/><path class="grid" d="M3534 0H3613"/><circle class="co" cx="3534" cy="0" r="32"/><use xlink:href="#star" class="so" transform="translate(3613,5)"/></g>
<g id="leaf-SK-W44-3" transform="translate(0,3066.5)"><rect class="car" x="3161" y="-37.45" width="262" height="74.9"/><text class="lbl" x="3176" y="16">SK W44-3</text><rect class="cell bN" x="3433" y="-37.45" width="64" height="74.9"/><path class="grid" d="M3534 0H3613"/><circle class="co" cx="3534" cy="0" r="32"/><use xlink:href="#star" class="so" transform="translate(3613,5)"/></g>
<g id="leaf-SK-W36-3" transform="translate(0,3141.4)"><rect class="car" x="3161" y="-37.45" width="262" height="74.9"/><text class="lbl" x="3176" y="16">SK W36-3</text><rect class="cell bS" x="3433" y="-37.45" width="64" height="74.9"/><path class="grid" d="M3534 0H3613"/><circle class="cf" cx="3534" cy="0" r="34"/><use xlink:href="#star" class="sf" transform="translate(3613,5)"/></g>
<g id="leaf-SK-W40-3" transform="translate(0,3216.3)"><rect class="car" x="3161" y="-37.45" width="262" height="74.9"/><text class="lbl" x="3176" y="16">SK W40-3</text><rect class="cell bN" x="3433" y="-37.45" width="64" height="74.9"/><path class="grid" d="M3534 0H3613"/><circle class="co" cx="3534" cy="0" r="32"/><use xlink:href="#star" class="so" transform="translate(3613,5)"/></g>
<g id="leaf-SK-PW9-3" transform="translate(0,3291.2)"><rect class="pwa" x="3161" y="-37.45" width="262" height="74.9"/><text class="lbl" x="3176" y="16">SK PW9-3</text><rect class="cell bS" x="3433" y="-37.45" width="64" height="74.9"/><path class="grid" d="M3534 0H3613"/><circle class="cf" cx="3534" cy="0" r="34"/><use xlink:href="#star" class="sf" transform="translate(3613,5)"/></g>
</g>
</svg>
